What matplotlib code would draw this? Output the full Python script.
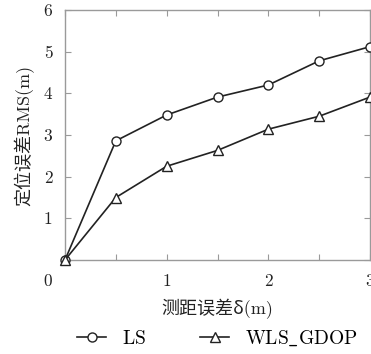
import numpy as np
import matplotlib
matplotlib.use("Agg")
import matplotlib.pyplot as plt
import matplotlib.transforms as mtrans

# data
delta = [0.0, 0.5, 1.0, 1.5, 2.0, 2.5, 3.0]
rms_ls = [0.0, 2.86, 3.48, 3.91, 4.20, 4.78, 5.12]
rms_wls = [0.0, 1.50, 2.25, 2.63, 3.14, 3.45, 3.91]
xtick_pos = [0.0, 0.5, 1.0, 1.5, 2.0, 2.5, 3.0]
xtick_lab = ['0', '', '1', '', '2', '', '3']
ytick_pos = [0, 1, 2, 3, 4, 5, 6]
ytick_lab = ['', '1', '2', '3', '4', '5', '6']
names = [r'$\mathrm{LS}$', r'$\mathrm{WLS\_GDOP}$']

fnt = ['cmr10', 'Noto Sans CJK SC', 'DejaVu Serif']
plt.rcParams['font.family'] = fnt
plt.rcParams['mathtext.fontset'] = 'cm'
plt.rcParams['axes.formatter.use_mathtext'] = True

fig = plt.figure(figsize=(3.71, 3.54), dpi=100)
ax = fig.add_axes([65/371., 1-260/354., 305/371., 250/354.])

lc = '#222222'
ax.plot(delta, rms_ls, '-o', color=lc, lw=1.2, ms=6.5, mfc='white', mec=lc, mew=1.0,
        clip_on=False, label=names[0], zorder=3)
ax.plot(delta, rms_wls, '-^', color=lc, lw=1.2, ms=7, mfc='white', mec=lc, mew=1.0,
        clip_on=False, label=names[1], zorder=3)

ax.set_xlim(0, 3)
ax.set_ylim(0, 6)
ax.set_xticks(xtick_pos)
ax.set_xticklabels(xtick_lab)
ax.set_yticks(ytick_pos)
ax.set_yticklabels(ytick_lab)

gc = '#9a9a9a'
for s in ax.spines.values():
    s.set_color(gc)
    s.set_linewidth(1.0)
ax.tick_params(direction='in', length=4, width=0.8, color=gc, top=True, right=True,
               labelsize=12.5, labelcolor='#222222')
ax.tick_params(axis='x', pad=10)
ax.tick_params(axis='y', pad=9)
# shift the "0" label left, like the original
lab0 = ax.get_xticklabels()[0]
lab0.set_transform(lab0.get_transform() + mtrans.ScaledTranslation(-17/100., 0, fig.dpi_scale_trans))

ax.set_xlabel('测距误差δ(m)', fontsize=13, labelpad=7, color='#222222')
ax.set_ylabel('定位误差RMS(m)', fontsize=13, labelpad=7, color='#222222')

fig.legend(loc='center', bbox_to_anchor=(0.585, 0.045), ncol=2, frameon=False,
           fontsize=14, handlelength=1.5, handletextpad=0.8, columnspacing=2.8)

fig.savefig('out.png', dpi=100)
